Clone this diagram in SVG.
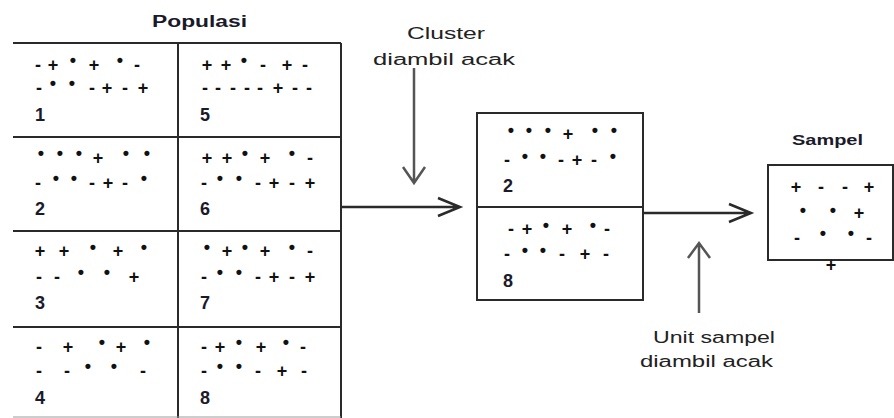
<svg xmlns="http://www.w3.org/2000/svg" width="894" height="418" viewBox="0 0 894 418">
  <style>
    .bg { fill: #ffffff; }
    .grid { stroke: #2a2a2a; stroke-width: 2; fill: none; }
    .box { stroke: #2a2a2a; stroke-width: 2; fill: #ffffff; }
    .s { font-family: "Liberation Sans", Arial, sans-serif; font-size: 18px; font-weight: bold; fill: #111; text-anchor: middle; dominant-baseline: central; }
    .num { font-family: "Liberation Sans", Arial, sans-serif; font-size: 18px; font-weight: bold; fill: #1a1a2a; }
    .title { font-family: "Liberation Sans", Arial, sans-serif; font-weight: bold; fill: #1a1a2a; }
    .lbl { font-family: "Liberation Sans", Arial, sans-serif; font-size: 16px; fill: #222; }
    .arr { stroke: #2a2a2a; stroke-width: 2.5; fill: none; }
    .arrg { stroke: #555; stroke-width: 2.5; fill: none; }
  </style>
  <rect class="bg" x="0" y="0" width="894" height="418"/>

  <!-- population grid of eight clusters -->
  <g id="populasi">
    <text class="title" x="152" y="27" font-size="16" textLength="95" lengthAdjust="spacingAndGlyphs">Populasi</text>
    <path class="grid" d="M13 43 H341 M13 137 H341 M13 231 H341 M13 327 H341 M178 43 V418 M341 43 V418"/>
    <line x1="13" y1="417" x2="341" y2="417" stroke="#9a9a9a" stroke-width="1"/>
  </g>

  <g id="cluster-1">
    <text class="s" x="38 53 73 94 120 137" y="65 65 60 65 60 65">-+•+•-</text>
    <text class="s" x="39 53 72 92 107 125 143" y="88 83 83 88 88 88 88">-••-+-+</text>
    <text class="num" x="35" y="121">1</text>
  </g>
  <g id="cluster-5">
    <text class="s" x="207 226 244 263 287 305" y="65 65 60 65 65 65">++•-+-</text>
    <text class="s" x="205 218 233 247 260 278 295 309" y="88 88 88 88 88 88 88 88">-----+--</text>
    <text class="num" x="200" y="121">5</text>
  </g>
  <g id="cluster-2">
    <text class="s" x="41 60 79 98 126 147" y="153 153 153 158 153 153">•••+••</text>
    <text class="s" x="38 56 74 92 108 125 144" y="183 178 178 183 183 183 178">-••-+-•</text>
    <text class="num" x="35" y="215">2</text>
  </g>
  <g id="cluster-6">
    <text class="s" x="207 227 245 265 292 310" y="158 158 153 158 153 158">++•+•-</text>
    <text class="s" x="204 220 239 258 274 292 310" y="183 178 178 183 183 183 183">-••-+-+</text>
    <text class="num" x="200" y="215">6</text>
  </g>
  <g id="cluster-3">
    <text class="s" x="40 64 93 118 144" y="251 251 247 251 247">++•+•</text>
    <text class="s" x="39 57 81 107 134" y="277 277 272 272 277">--••+</text>
    <text class="num" x="35" y="309">3</text>
  </g>
  <g id="cluster-7">
    <text class="s" x="207 227 245 265 292 310" y="247 251 247 251 247 251">•+•+•-</text>
    <text class="s" x="204 220 239 258 274 292 310" y="277 272 272 277 277 277 277">-••-+-+</text>
    <text class="num" x="200" y="309">7</text>
  </g>
  <g id="cluster-4">
    <text class="s" x="39 68 102 121 147" y="347 347 342 347 342">-+•+•</text>
    <text class="s" x="39 67 88 114 143" y="371 371 366 366 371">--••-</text>
    <text class="num" x="35" y="404">4</text>
  </g>
  <g id="cluster-8">
    <text class="s" x="204 220 239 261 286 303" y="347 347 342 347 342 347">-+•+•-</text>
    <text class="s" x="204 220 239 258 282 304" y="371 366 366 371 371 371">-••-+-</text>
    <text class="num" x="200" y="404">8</text>
  </g>

  <!-- selected clusters -->
  <g id="terpilih">
    <rect class="box" x="477" y="113" width="166" height="187"/>
    <line class="grid" x1="477" y1="207" x2="643" y2="207"/>
    <text class="s" x="511 529 548 568 595 614" y="130 130 130 134 130 130">•••+••</text>
    <text class="s" x="507 525 543 561 577 594 613" y="160 156 156 160 160 160 156">-••-+-•</text>
    <text class="num" x="503" y="192">2</text>
    <text class="s" x="511 527 546 567 593 607" y="229 229 225 229 225 229">-+•+•-</text>
    <text class="s" x="507 525 543 562 585 606" y="254 250 250 254 254 254">-••-+-</text>
    <text class="num" x="503" y="287">8</text>
  </g>

  <!-- sample -->
  <g id="sampel">
    <text class="title" x="792" y="145" font-size="14" textLength="71" lengthAdjust="spacingAndGlyphs">Sampel</text>
    <rect class="box" x="768" y="165" width="125" height="95"/>
    <text class="s" x="796 821 845 869" y="187 187 187 187">+--+</text>
    <text class="s" x="803 833 859" y="210 210 213">••+</text>
    <text class="s" x="797 823 851 869" y="238 233 233 238">-••-</text>
    <text class="s" x="831" y="265">+</text>
  </g>

  <!-- annotations -->
  <g id="label-cluster">
    <text class="lbl" x="407" y="39" textLength="78" lengthAdjust="spacingAndGlyphs">Cluster</text>
    <text class="lbl" x="373" y="65" textLength="142" lengthAdjust="spacingAndGlyphs">diambil acak</text>
  </g>
  <g id="label-unit">
    <text class="lbl" x="653" y="343" textLength="122" lengthAdjust="spacingAndGlyphs">Unit sampel</text>
    <text class="lbl" x="640" y="367" textLength="133" lengthAdjust="spacingAndGlyphs">diambil acak</text>
  </g>

  <!-- connectors -->
  <g id="connectors">
    <path class="arr" d="M341 207 H459 M438 198 L460 207 L438 216"/>
    <path class="arrg" d="M414 68 V182 M403 167 L414 183 L425 167"/>
    <path class="arr" d="M643 213 H750 M729 204 L751 213 L729 222"/>
    <path class="arrg" d="M699 313 V244 M688 258 L699 243 L710 258"/>
  </g>
</svg>
